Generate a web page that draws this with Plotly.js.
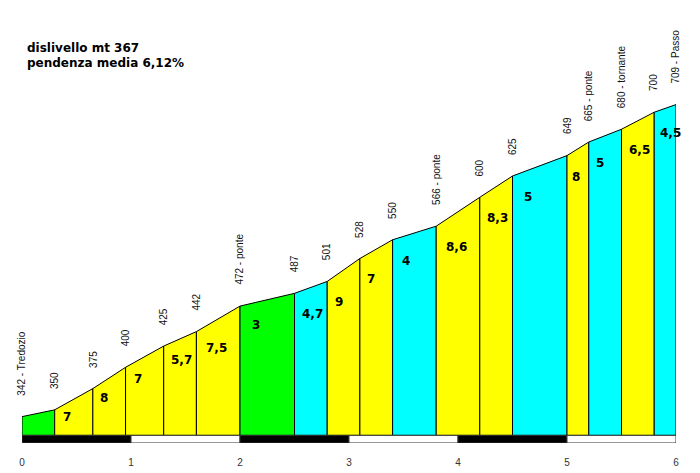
<!DOCTYPE html>
<html>
<head>
<meta charset="utf-8">
<script src="https://cdn.plot.ly/plotly-3.0.1.min.js"></script>
<style>
  html, body { margin: 0; padding: 0; background: #fff; }
  #chart { width: 700px; height: 473px; }
</style>
</head>
<body>
<div id="chart"></div>
<script>
// Climb profile: distance (km) and altitude (m) at each waypoint
const distKm   = [0, 0.3, 0.65, 0.95, 1.3, 1.6, 2.0, 2.5, 2.8, 3.1, 3.4, 3.8, 4.2, 4.5, 5.0, 5.2, 5.5, 5.8, 6.0];
const altitude = [342, 350, 375, 400, 425, 442, 472, 487, 501, 528, 550, 566, 600, 625, 649, 665, 680, 700, 709];
const placeNames = ["Tredozio", "", "", "", "", "", "ponte", "", "", "", "", "ponte", "", "", "", "ponte", "tornante", "", "Passo"];

// Gradient (%) printed on each section; the first section carries no label
const gradientLabels = [null, "7", "8", "7", "5,7", "7,5", "3", "4,7", "9", "7", "4", "8,6", "8,3", "5", "8", "5", "6,5", "4,5"];

const kmTicks = [0, 1, 2, 3, 4, 5, 6];
const summary = ["dislivello mt 367", "pendenza media 6,12%"];

const BASE_ALT = 320;            // altitude of the profile's floor
const Y_RANGE = [311, 832];
const BAR_BOTTOM = 311;          // kilometre bar sits below the floor

function sectionColor(g) {
  if (g < 3.5) return "#00ff00";
  if (g <= 5.0) return "#00ffff";
  return "#ffff00";
}

const traces = [];
const annotations = [];

for (let i = 0; i < distKm.length - 1; i++) {
  const x0 = distKm[i], x1 = distKm[i + 1];
  const a0 = altitude[i], a1 = altitude[i + 1];
  const lbl = gradientLabels[i];
  const g = lbl !== null ? parseFloat(lbl.replace(",", ".")) : (a1 - a0) / ((x1 - x0) * 10);
  traces.push({
    type: "scatter",
    mode: "lines",
    x: [x0, x0, x1, x1, x0],
    y: [BASE_ALT, a0, a1, BASE_ALT, BASE_ALT],
    fill: "toself",
    fillcolor: sectionColor(g),
    line: { color: "#000", width: 1 },
    hoverinfo: "skip",
    showlegend: false
  });
  if (lbl !== null) {
    const widthPx = (x1 - x0) * 109;
    // labels sit closer to the top edge on the low, short sections
    const drop = Math.min(21, 6 + 0.1 * (a0 - altitude[0]));
    annotations.push({
      x: x0, y: a0, xref: "x", yref: "y",
      text: lbl, showarrow: false,
      xanchor: "left", yanchor: "middle",
      xshift: Math.max(2, 0.2 * widthPx - 1), yshift: -drop,
      font: { family: "DejaVu Sans", size: 12, color: "#000", weight: "bold" }
    });
  }
}

// Altitude / place labels above each waypoint
for (let i = 0; i < distKm.length; i++) {
  const txt = placeNames[i] ? altitude[i] + " - " + placeNames[i] : String(altitude[i]);
  annotations.push({
    x: distKm[i], y: altitude[i], xref: "x", yref: "y",
    text: txt, showarrow: false, textangle: -90,
    xanchor: "center", yanchor: "bottom", yshift: 19,
    font: { family: "Liberation Sans, Arial", size: 10, color: "#111" }
  });
}

// Summary text
summary.forEach((s, k) => {
  annotations.push({
    x: 0, y: 1 - (48 + k * 15) / 443, xref: "paper", yref: "paper",
    text: s, showarrow: false, xanchor: "left", yanchor: "middle", xshift: 3,
    font: { family: "DejaVu Sans", size: 12, color: "#000", weight: "bold" }
  });
});

// Alternating black/white kilometre bar
const shapes = [];
for (let k = 0; k < kmTicks.length - 1; k++) {
  shapes.push({
    type: "rect", xref: "x", yref: "y",
    x0: kmTicks[k], x1: kmTicks[k + 1], y0: BAR_BOTTOM, y1: BASE_ALT,
    fillcolor: k % 2 === 0 ? "#000" : "#fff",
    line: { color: "#333", width: 1 },
    layer: "above"
  });
}

const layout = {
  width: 700, height: 473,
  margin: { l: 22, r: 24, t: 0, b: 30 },
  paper_bgcolor: "#fff", plot_bgcolor: "#fff",
  showlegend: false,
  xaxis: {
    range: [0, 6], tickvals: kmTicks, ticktext: kmTicks.map(String),
    showgrid: false, zeroline: false, showline: false,
    ticks: "outside", ticklen: 10, tickcolor: "rgba(0,0,0,0)",
    tickfont: { family: "Liberation Sans, Arial", size: 10, color: "#333" },
    fixedrange: true
  },
  yaxis: {
    range: Y_RANGE, visible: false, showgrid: false, zeroline: false, fixedrange: true
  },
  annotations: annotations,
  shapes: shapes
};

Plotly.newPlot("chart", traces, layout, { displayModeBar: false, staticPlot: true });
</script>
</body>
</html>
